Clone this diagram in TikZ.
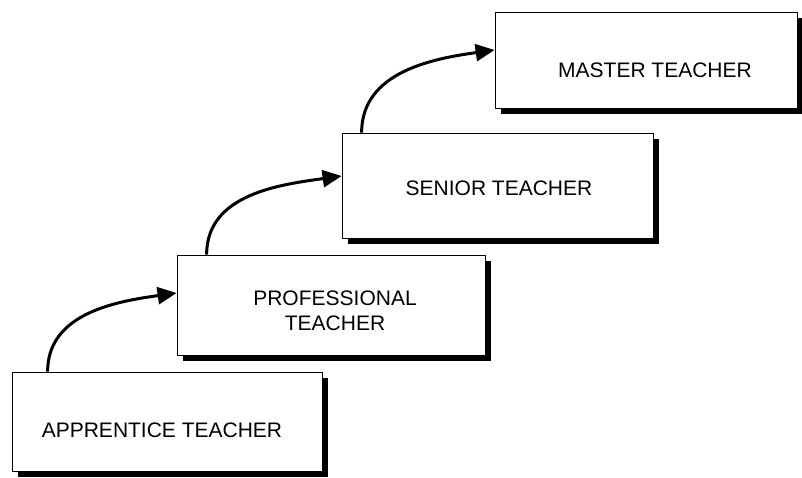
\documentclass[tikz,border=0pt]{standalone}
\usepackage{fontspec}
\setmainfont{Liberation Sans}
\usetikzlibrary{arrows.meta,shadows}
\begin{document}
\begin{tikzpicture}[x=1pt,y=-1pt,
  stage/.style={draw=black, line width=0.8pt, fill=white, inner sep=0pt,
    drop shadow={shadow xshift=6pt, shadow yshift=-6pt, fill=black, opacity=1}},
  label/.style={font=\fontsize{21}{25}\selectfont, align=center, inner sep=0pt},
  step arrow/.style={line width=3pt, -{Triangle[length=19pt,width=17pt]}},
]
\useasboundingbox (0,0) rectangle (802,478);
\node[stage, minimum width=310pt, minimum height=99pt] (b1) at (167,421.5) {};
\node[stage, minimum width=308pt, minimum height=100pt] (b2) at (331,305) {};
\node[stage, minimum width=311pt, minimum height=105pt] (b3) at (497.5,185.5) {};
\node[stage, minimum width=302pt, minimum height=96pt] (b4) at (646,60) {};
\node[label] (t1) at (162,430) {APPRENTICE TEACHER};
\node[label] (t2) at (335,311) {PROFESSIONAL\\TEACHER};
\node[label] (t3) at (499,188) {SENIOR TEACHER};
\node[label] (t4) at (655,70) {MASTER TEACHER};
\draw[step arrow] ([xshift=36pt]b1.north west) to[out=90,in=188] ([yshift=12pt]b2.west);
\draw[step arrow] ([xshift=30pt]b2.north west) to[out=90,in=188] ([yshift=9.5pt]b3.west);
\draw[step arrow] ([xshift=20pt]b3.north west) to[out=90,in=188] ([yshift=10pt]b4.west);
\end{tikzpicture}
\end{document}
